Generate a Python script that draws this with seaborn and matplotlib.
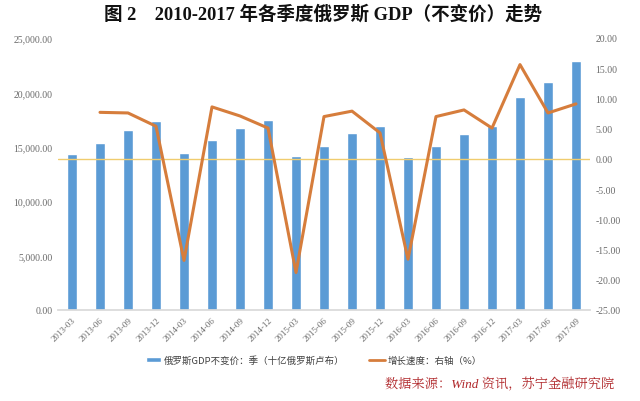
import numpy as np
import pandas as pd
import matplotlib
matplotlib.use("Agg")
import matplotlib.pyplot as plt
import seaborn as sns
from matplotlib.ticker import FuncFormatter, MultipleLocator
from matplotlib.patches import Patch
from matplotlib.lines import Line2D

quarters = ["2013-03", "2013-06", "2013-09", "2013-12", "2014-03", "2014-06", "2014-09",
            "2014-12", "2015-03", "2015-06", "2015-09", "2015-12", "2016-03", "2016-06",
            "2016-09", "2016-12", "2017-03", "2017-06", "2017-09"]
gdp = [14310, 15380, 16540, 17400, 14400, 15620, 16700, 17490, 14130, 15100,
       16240, 16910, 14030, 15040, 16180, 16880, 19550, 20990, 22910]
growth = [np.nan, 7.7, 7.6, 5.4, -16.8, 8.6, 7.1, 5.1, -18.8, 7.0,
          7.9, 4.3, -16.6, 7.0, 8.1, 5.1, 15.6, 7.6, 9.1]

title = "图 2    2010-2017 年各季度俄罗斯 GDP（不变价）走势"
legend_bar = "俄罗斯GDP不变价：季（十亿俄罗斯卢布）"
legend_line = "增长速度：右轴（%）"
source = "数据来源：Wind 资讯，苏宁金融研究院"

sns.set_theme(style="white")
plt.rcParams['font.family'] = ['Liberation Serif', 'Noto Sans CJK SC', 'DejaVu Sans']

df = pd.DataFrame({"q": quarters, "gdp": gdp, "growth": growth, "idx": np.arange(len(quarters))})

fig = plt.figure(figsize=(6.4, 4.02), dpi=100)
ax = fig.add_axes([58/640, 1-311/402, (590-58)/640, (311-39)/402])
bar_c = "#5B9BD5"
line_c = "#D67D3C"
sns.barplot(data=df, x="q", y="gdp", color=bar_c, width=0.34, ax=ax, saturation=1)
ax.set_ylim(0, 25000)
ax.yaxis.set_major_locator(MultipleLocator(5000))
ax.yaxis.set_major_formatter(FuncFormatter(lambda v, p: f"{v:,.2f}"))
ax.set_xlabel("")
ax.set_ylabel("")
ax.set_xlim(-0.5, len(quarters) - 0.5)

ax2 = ax.twinx()
ax2.axhline(0, color="#F0CC6E", lw=1.0, zorder=1)
sns.lineplot(data=df, x="idx", y="growth", color=line_c, lw=2.2, ax=ax2)
ax2.set_ylim(-25, 20)
ax2.yaxis.set_major_locator(MultipleLocator(5))
ax2.yaxis.set_major_formatter(FuncFormatter(lambda v, p: f"{v:.2f}"))
ax2.set_ylabel("")
ax2.set_xlabel("")
ax2.set_xlim(-0.5, len(quarters) - 0.5)

for a in (ax, ax2):
    for s in ("top", "left", "right"):
        a.spines[s].set_visible(False)
    a.spines["bottom"].set_color("#D9D9D9")
    a.tick_params(axis="both", length=0, labelsize=7, labelcolor="#6A6A6A", pad=4)
ax2.spines["bottom"].set_visible(False)

ax.set_xticks(range(len(quarters)))
ax.set_xticklabels(quarters, rotation=45, ha="right", rotation_mode="anchor", fontsize=6.5)

fig.text(0.505, 1-14/402, title, ha="center", va="center", fontsize=13.3, fontweight="bold",
         color="#111111", family=['Liberation Serif', 'Noto Sans CJK SC'])

handles = [Patch(facecolor=bar_c, label=legend_bar),
           Line2D([0], [0], color=line_c, lw=2, label=legend_line)]
fig.legend(handles=handles, loc="center", bbox_to_anchor=(314/640, 1-361/402), ncol=2,
           frameon=False, handlelength=1.6, columnspacing=2.6, handletextpad=0.3,
           prop={'family': ['Noto Sans CJK SC', 'DejaVu Sans'], 'size': 6.8},
           labelcolor="#404040", handleheight=0.45)

fig.text(614/640, 1-384/402, source, ha="right", va="center", fontsize=9.5, color="#B0282B",
         style="italic", family=['Liberation Serif', 'Noto Serif CJK SC', 'Noto Sans CJK SC'])

fig.savefig("out.png", dpi=100, facecolor="white")
